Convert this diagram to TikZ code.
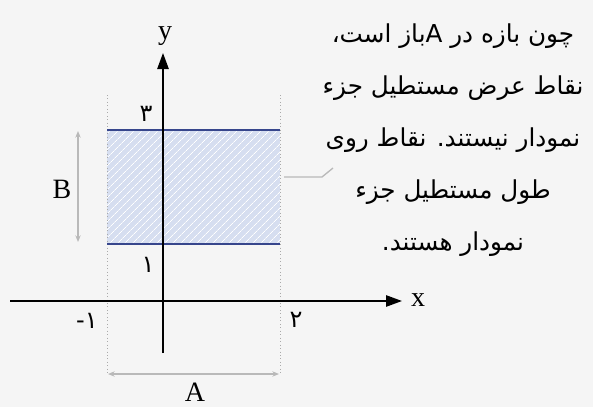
\documentclass[tikz,border=0pt]{standalone}
\usepackage{fontspec}
\setmainfont{Liberation Serif}
\newfontfamily\arabicfont[Script=Arabic]{DejaVu Sans}
\TeXXeTstate=1
\usetikzlibrary{arrows.meta,patterns.meta}
\definecolor{bgc}{RGB}{245,245,245}
\definecolor{rectfill}{RGB}{214,222,240}
\definecolor{rectline}{RGB}{55,70,140}
\definecolor{dimc}{RGB}{185,185,185}
\definecolor{dotc}{RGB}{170,170,170}
\begin{document}
\begin{tikzpicture}[x=0.75pt,y=-0.75pt,
  axis/.style={line width=1.2pt,-{Triangle[length=12pt,width=8.5pt]}},
  edgeline/.style={line width=1.1pt,rectline},
  dotline/.style={dotc,line width=0.6pt,dotted},
  dimline/.style={dimc,line width=1pt,{Stealth[length=5pt,width=4pt]}-{Stealth[length=5pt,width=4pt]}},
  lbl/.style={font=\fontsize{21}{21}\selectfont,inner sep=0pt},
  num/.style={font=\arabicfont\fontsize{18}{18}\selectfont,inner sep=0pt},
  note/.style={font=\arabicfont\fontsize{18.5}{39}\selectfont,align=center,inner sep=0pt}]
\fill[bgc] (0,0) rectangle (593,407);
\useasboundingbox (0,0) rectangle (593,407);
% shaded rectangle
\coordinate (r1) at (107,130);
\coordinate (r2) at (280,244);
\fill[rectfill] (r1) rectangle (r2);
\pattern[pattern={Lines[angle=45,distance=4pt,line width=0.5pt]},pattern color=white] (r1) rectangle (r2);
% dotted verticals
\coordinate (dl1) at (107,95);
\coordinate (dl2) at (107,373);
\coordinate (dr1) at (280,95);
\coordinate (dr2) at (280,373);
\draw[dotline] (dl1) -- (dl2);
\draw[dotline] (dr1) -- (dr2);
% top and bottom lines
\draw[edgeline] (107,130) coordinate (t1) -- (280,130) coordinate (t2);
\draw[edgeline] (107,244) coordinate (b1) -- (280,244) coordinate (b2);
% axes
\coordinate (xs) at (10,301);
\coordinate (xe) at (402,301);
\coordinate (ys) at (163,353);
\coordinate (ye) at (163,53);
\draw[axis] (xs) -- (xe);
\draw[axis] (ys) -- (ye);
% labels
\node[lbl] (ylab) at (165,36) {y};
\node[lbl] (xlab) at (418,300) {x};
\node[num] (n3) at (146,114) {۳};
\node[num] (n1) at (148,265) {۱};
\node[num] (nm1) at (87,321) {{\fontspec{DejaVu Sans}-}۱};
\node[num] (n2) at (296,320) {۲};
% dimension lines
\coordinate (a1) at (108,374);
\coordinate (a2) at (279,374);
\draw[dimline] (a1) -- (a2);
\node[lbl] (alab) at (195,392) {A};
\coordinate (bb1) at (78,131);
\coordinate (bb2) at (78,242);
\draw[dimline] (bb1) -- (bb2);
\node[lbl] (blab) at (62,189) {B};
% note text
\node[note] (txt) at (453,140) {%
\beginR چون بازه در \beginL A\endL باز است،\endR\\
\beginR نقاط عرض مستطیل جزء\endR\\
\beginR نمودار نیستند. نقاط روی\endR\\
\beginR طول مستطیل جزء\endR\\
\beginR نمودار هستند.\endR};
% leader
\coordinate (ld1) at (284,177);
\coordinate (ld2) at (322,177);
\coordinate (ld3) at (333,168);
\draw[dimc,line width=1pt] (ld1) -- (ld2) -- (ld3);
\end{tikzpicture}
\end{document}
